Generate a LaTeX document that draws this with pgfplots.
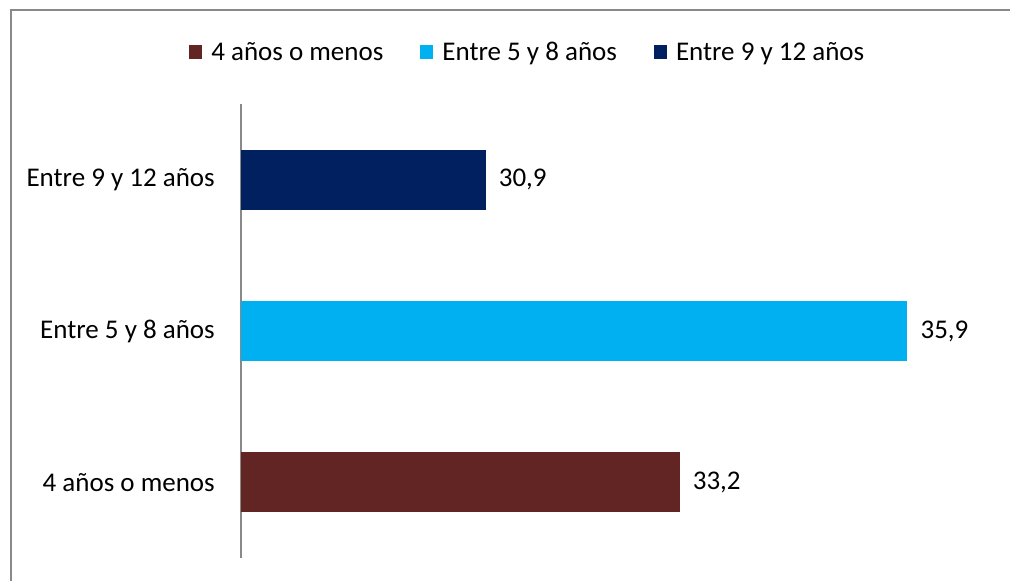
\documentclass[border=0pt]{standalone}
\usepackage{pgfplots}
\pgfplotsset{compat=1.18}
\usepackage{fontspec}
\setmainfont{Carlito}
\definecolor{c1}{HTML}{632523}
\definecolor{c2}{HTML}{00B0F0}
\definecolor{c3}{HTML}{002060}
\definecolor{axgray}{HTML}{898989}
\begin{document}
\begin{tikzpicture}[x=1pt,y=1pt]
\useasboundingbox (0,0) rectangle (1010,581);
\draw[axgray, line width=2pt] (11,0) -- (11,571) -- (1010,571);
\begin{axis}[
  at={(241pt,23pt)}, anchor=south west,
  width=717pt, height=454pt, scale only axis,
  xmin=28, xmax=36.5, ymin=-0.5, ymax=2.5,
  clip=false,
  xbar,
  every axis plot/.append style={bar width=60pt, bar shift=0pt, draw=none},
  hide x axis,
  axis y line*=left,
  y axis line style={axgray, line width=2pt},
  ytick={0,1,2},
  yticklabels={4 años o menos, Entre 5 y 8 años, Entre 9 y 12 años},
  major tick length=0pt,
  yticklabel style={font=\fontsize{27}{32}\selectfont, inner sep=0pt, xshift=-26pt},
  nodes near coords,
  point meta=x,
  nodes near coords style={font=\fontsize{27}{32}\selectfont, anchor=west, inner sep=0pt, xshift=13pt, text=black},
  /pgf/number format/.cd, fixed, fixed zerofill, precision=1, use comma, assume math mode=true,
  /pgfplots/.cd,
  legend style={at={(0.400,1.114)}, anchor=center, draw=none, fill=none,
    legend columns=-1, font=\fontsize{27}{32}\selectfont,
    nodes={inner sep=2pt},
    /tikz/every odd column/.append style={column sep=7pt},
    /tikz/every even column/.append style={column sep=35pt}},
  legend image code/.code={\fill[#1] (0pt,-7pt) rectangle (13pt,7pt);},
]
\addplot[fill=c1] coordinates {(33.2,0)};
\addplot[fill=c2] coordinates {(35.9,1)};
\addplot[fill=c3] coordinates {(30.9,2)};
\legend{4 años o menos, Entre 5 y 8 años, Entre 9 y 12 años}
\end{axis}
\end{tikzpicture}
\end{document}
